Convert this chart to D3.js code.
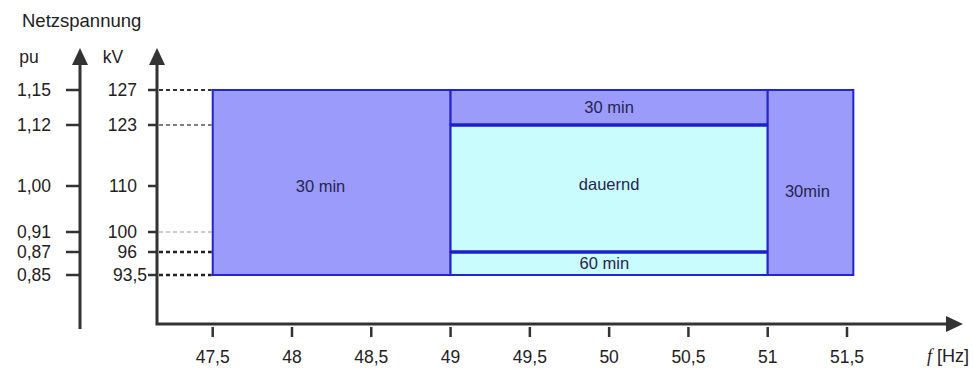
<!DOCTYPE html>
<html>
<head>
<meta charset="utf-8">
<script src="https://cdn.jsdelivr.net/npm/d3@7"></script>
<style>
  html, body { margin: 0; padding: 0; background: #fff; }
  svg { display: block; font-family: "Liberation Sans", Arial, sans-serif; }
</style>
</head>
<body>
<svg id="chart" width="973" height="369"></svg>
<script>
// Voltage levels on the two vertical axes (per unit and kV)
const puLabels = ["1,15", "1,12", "1,00", "0,91", "0,87", "0,85"];
const kvLevels = [127, 123, 110, 100, 96, 93.5];
const kvLabels = ["127", "123", "110", "100", "96", "93,5"];

// Frequency ticks
const freqTicks = [47.5, 48, 48.5, 49, 49.5, 50, 50.5, 51, 51.5];

// Operating zones: frequency range, voltage range (kV), permitted duration
const zoneNames = ["30 min", "30 min", "dauernd", "60 min", "30min"];
const zoneFreqFrom = [47.5, 49, 49, 49, 51];
const zoneFreqTo   = [49, 51, 51, 51, 51.54];
const zoneKvFrom   = [93.5, 123, 96, 93.5, 93.5];
const zoneKvTo     = [127, 127, 123, 96, 127];
const zoneKind     = ["limited", "limited", "continuous", "continuous", "limited"];
// Label anchor inside each zone (Hz, kV)
const labelFreq = [48.18, 50, 50, 49.97, 51.25];
const labelKv   = [110, 125, 110.3, 94.75, 108.8];

const svg = d3.select("#chart");
const ink = "#333";

// Scales: frequency is linear, the voltage axis is drawn schematically (piecewise)
const x = d3.scaleLinear().domain([47.5, 51.5]).range([212.7, 847]);
const y = d3.scaleLinear()
  .domain([93.5, 96, 100, 110, 123, 127])
  .range([275, 252, 232, 186, 125, 90]);

const puAxisX = 80, kvAxisX = 157, xAxisY = 324, arrowTipY = 48, arrowTipX = 963;

// Zones
const fills = { limited: "#9b9bfb", continuous: "#c8fcfd" };
const zones = zoneNames.map((n, i) => ({
  name: n, f0: zoneFreqFrom[i], f1: zoneFreqTo[i],
  v0: zoneKvFrom[i], v1: zoneKvTo[i], kind: zoneKind[i],
  lf: labelFreq[i], lv: labelKv[i]
}));

svg.append("g").selectAll("rect").data(zones).join("rect")
  .attr("x", d => x(d.f0))
  .attr("y", d => y(d.v1))
  .attr("width", d => x(d.f1) - x(d.f0))
  .attr("height", d => y(d.v0) - y(d.v1))
  .attr("fill", d => fills[d.kind])
  .attr("stroke", "#2323d2")
  .attr("stroke-width", 2);

// Heavier separators inside the 49–51 Hz block
svg.append("g").selectAll("line").data([123, 96]).join("line")
  .attr("x1", x(49)).attr("x2", x(51))
  .attr("y1", d => y(d)).attr("y2", d => y(d))
  .attr("stroke", "#1e1ecf").attr("stroke-width", 3.5);

svg.append("g").selectAll("text").data(zones).join("text")
  .attr("x", d => x(d.lf))
  .attr("y", d => y(d.lv))
  .attr("dy", "0.35em")
  .attr("text-anchor", "middle")
  .attr("font-size", 16.5)
  .attr("fill", "#262650")
  .text(d => d.name);

// Dashed guides from the kV axis to the zone edge
const guideStyle = {
  127: { c: "#333", w: 1.8 }, 123: { c: "#555", w: 1.4 },
  100: { c: "#999", w: 1.1 }, 96: { c: "#222", w: 2.6 }, 93.5: { c: "#222", w: 2.6 }
};
svg.append("g").selectAll("line").data(kvLevels.filter(v => guideStyle[v])).join("line")
  .attr("x1", kvAxisX + 2).attr("x2", x(47.5) - 1)
  .attr("y1", d => y(d)).attr("y2", d => y(d))
  .attr("stroke", d => guideStyle[d].c)
  .attr("stroke-width", d => guideStyle[d].w)
  .attr("stroke-dasharray", "4,3");

// Axes lines
const axisG = svg.append("g").attr("stroke", ink).attr("stroke-width", 3).attr("fill", "none");
axisG.append("line").attr("x1", puAxisX).attr("x2", puAxisX).attr("y1", 329).attr("y2", arrowTipY + 12);
axisG.append("path").attr("d", `M${kvAxisX},${arrowTipY + 12}V${xAxisY}H${arrowTipX - 12}`);

// Arrow heads
const arrowG = svg.append("g").attr("fill", ink);
[puAxisX, kvAxisX].forEach(ax => {
  arrowG.append("path").attr("d", `M${ax},${arrowTipY}L${ax + 8},${arrowTipY + 17}L${ax - 8},${arrowTipY + 17}Z`);
});
arrowG.append("path").attr("d", `M${arrowTipX},${xAxisY}L${arrowTipX - 17},${xAxisY - 8}L${arrowTipX - 17},${xAxisY + 8}Z`);

// Voltage ticks and labels
const levels = kvLevels.map((v, i) => ({ v, pu: puLabels[i], kv: kvLabels[i] }));
const tickG = svg.append("g");
tickG.selectAll("line.pu").data(levels).join("line").attr("class", "pu")
  .attr("x1", puAxisX - 14).attr("x2", puAxisX)
  .attr("y1", d => y(d.v)).attr("y2", d => y(d.v))
  .attr("stroke", ink).attr("stroke-width", 2.5);
tickG.selectAll("line.kv").data(levels).join("line").attr("class", "kv")
  .attr("x1", kvAxisX - 9).attr("x2", kvAxisX)
  .attr("y1", d => y(d.v)).attr("y2", d => y(d.v))
  .attr("stroke", ink).attr("stroke-width", 2.5);

const labelG = svg.append("g").attr("font-size", 17.5).attr("fill", "#222");
labelG.selectAll("text.pu").data(levels).join("text").attr("class", "pu")
  .attr("x", 51).attr("y", d => y(d.v)).attr("dy", "0.36em")
  .attr("text-anchor", "end").text(d => d.pu);
labelG.selectAll("text.kv").data(levels).join("text").attr("class", "kv")
  .attr("x", d => d.v === 93.5 ? 147 : 137).attr("y", d => y(d.v)).attr("dy", "0.36em")
  .attr("text-anchor", "end").text(d => d.kv);

// Frequency axis ticks and labels
const xt = svg.append("g");
xt.selectAll("line").data(freqTicks).join("line")
  .attr("x1", d => x(d)).attr("x2", d => x(d))
  .attr("y1", xAxisY + 3).attr("y2", xAxisY + 13)
  .attr("stroke", ink).attr("stroke-width", 2.5);
xt.selectAll("text").data(freqTicks).join("text")
  .attr("x", d => x(d)).attr("y", 363)
  .attr("text-anchor", "middle").attr("font-size", 17.5).attr("fill", "#222")
  .text(d => String(d).replace(".", ","));

// Axis titles
svg.append("text").attr("x", 22).attr("y", 27).attr("font-size", 18.5).attr("fill", "#222").text("Netzspannung");
svg.append("text").attr("x", 29).attr("y", 63).attr("text-anchor", "middle").attr("font-size", 17.5).attr("fill", "#222").text("pu");
svg.append("text").attr("x", 113).attr("y", 63).attr("text-anchor", "middle").attr("font-size", 17.5).attr("fill", "#222").text("kV");
const ft = svg.append("text").attr("x", 969).attr("y", 362).attr("text-anchor", "end").attr("font-size", 18).attr("fill", "#222");
ft.append("tspan").attr("font-style", "italic").attr("font-family", "Liberation Serif, serif").text("f");
ft.append("tspan").text(" [Hz]");
</script>
</body>
</html>
